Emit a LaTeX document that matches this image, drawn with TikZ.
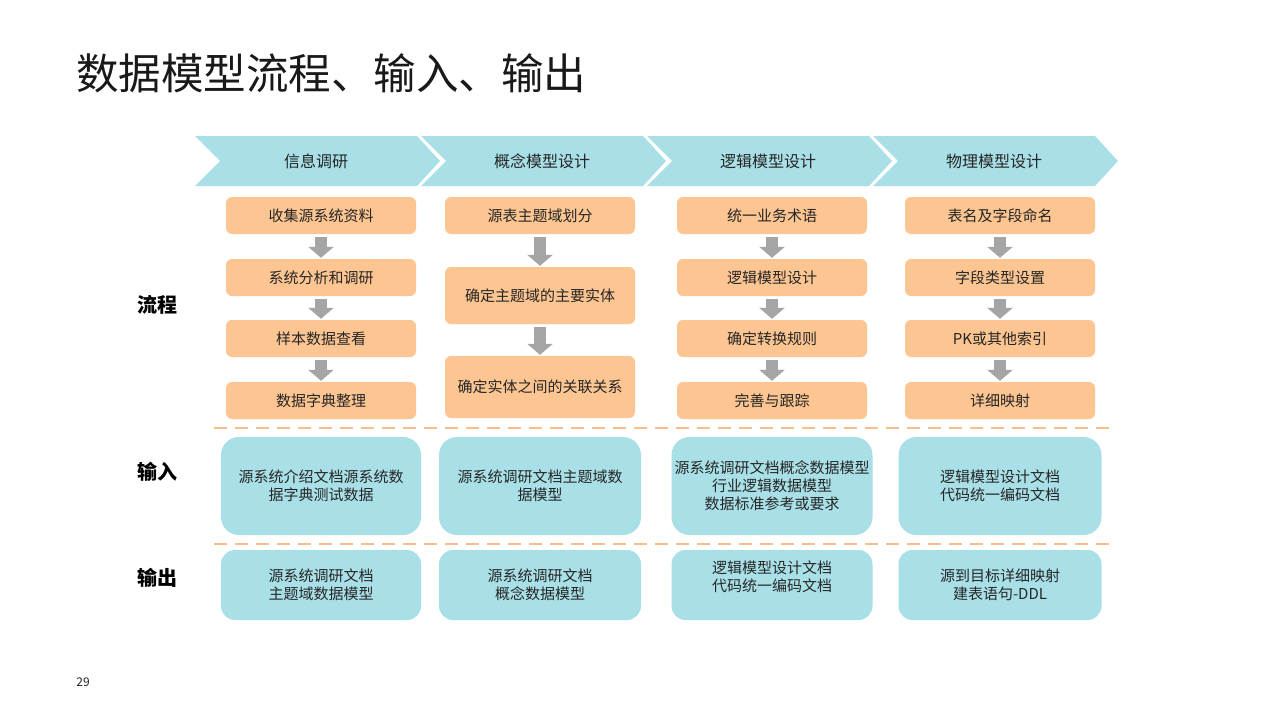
\documentclass[tikz,border=0pt]{standalone}
\usepackage{fontspec}
\setmainfont{Noto Sans CJK SC}
\usetikzlibrary{arrows.meta}
\definecolor{chev}{HTML}{A9DFE7}
\definecolor{bluebox}{HTML}{A9E0E8}
\definecolor{orangebox}{HTML}{FCC591}
\definecolor{dashc}{HTML}{F5BE8A}
\definecolor{arrowc}{HTML}{A5A5A5}
\definecolor{txt}{HTML}{262626}
\begin{document}
\begin{tikzpicture}[x=1pt,y=-1pt,
  chevtext/.style={font=\fontsize{16}{19}\selectfont, text=txt, inner sep=0},
  obox/.style={fill=orangebox, rounded corners=6pt, minimum width=190pt, text=txt,
    font=\fontsize{15}{18}\selectfont, inner sep=0, align=center},
  ibox/.style={fill=bluebox, rounded corners=18pt, text=txt,
    font=\fontsize{15}{18}\selectfont, inner sep=0, align=center, minimum height=98pt},
  outbox/.style={fill=bluebox, rounded corners=14pt, text=txt,
    font=\fontsize{15}{18}\selectfont, inner sep=0, align=center, minimum height=70pt},
  garrow/.style={draw=arrowc, line width=12pt, -{Triangle[width=25pt,length=11pt]},
    shorten <=3pt, shorten >=1pt},
  sidelabel/.style={font=\fontsize{20}{24}\selectfont\bfseries, text=black, inner sep=0},
  sep/.style={draw=dashc, line width=2.5pt, dash pattern=on 13pt off 8pt}
]
\useasboundingbox (0,0) rectangle (1280,720);
\fill[white] (0,0) rectangle (1280,720);

% title
\node[anchor=west, inner sep=0, font=\fontsize{42.5}{48}\selectfont, text=black!90] (title) at (76,73) {数据模型流程、输入、输出};

% chevrons
\foreach \x/\lab/\nm in {195/信息调研/h1, 421/概念模型设计/h2, 647/逻辑模型设计/h3, 873/物理模型设计/h4}{
  \fill[chev] (\x,136) -- (\x+222,136) -- (\x+245,161) -- (\x+222,186) -- (\x,186) -- (\x+25,161) -- cycle;
  \node[chevtext] (\nm) at (\x+121,161) {\lab};
}

% column 1
\node[obox, minimum height=37pt] (a1) at (321,215.5) {收集源系统资料};
\node[obox, minimum height=37pt] (a2) at (321,277.5) {系统分析和调研};
\node[obox, minimum height=37pt] (a3) at (321,338.5) {样本数据查看};
\node[obox, minimum height=37pt] (a4) at (321,400.5) {数据字典整理};
% column 2
\node[obox, minimum height=37pt] (b1) at (540,215.5) {源表主题域划分};
\node[obox, minimum height=57pt] (b2) at (540,295.5) {确定主题域的主要实体};
\node[obox, minimum height=62pt] (b3) at (540,387) {确定实体之间的关联关系};
% column 3
\node[obox, minimum height=37pt] (c1) at (772,215.5) {统一业务术语};
\node[obox, minimum height=37pt] (c2) at (772,277.5) {逻辑模型设计};
\node[obox, minimum height=37pt] (c3) at (772,338.5) {确定转换规则};
\node[obox, minimum height=37pt] (c4) at (772,400.5) {完善与跟踪};
% column 4
\node[obox, minimum height=37pt] (d1) at (1000,215.5) {表名及字段命名};
\node[obox, minimum height=37pt] (d2) at (1000,277.5) {字段类型设置};
\node[obox, minimum height=37pt] (d3) at (1000,338.5) {PK或其他索引};
\node[obox, minimum height=37pt] (d4) at (1000,400.5) {详细映射};

% arrows
\draw[garrow] (a1) -- (a2);
\draw[garrow] (a2) -- (a3);
\draw[garrow] (a3) -- (a4);
\draw[garrow] (b1) -- (b2);
\draw[garrow] (b2) -- (b3);
\draw[garrow] (c1) -- (c2);
\draw[garrow] (c2) -- (c3);
\draw[garrow] (c3) -- (c4);
\draw[garrow] (d1) -- (d2);
\draw[garrow] (d2) -- (d3);
\draw[garrow] (d3) -- (d4);

% separators
\coordinate (s1l) at (214,428); \coordinate (s1r) at (1112,428);
\coordinate (s2l) at (214,544); \coordinate (s2r) at (1112,544);
\draw[sep] (s1l) -- (s1r);
\draw[sep] (s2l) -- (s2r);

% input boxes
\node[ibox, minimum width=200pt] (i1) at (321,486) {源系统介绍文档源系统数\\据字典测试数据};
\node[ibox, minimum width=202pt] (i2) at (540,486) {源系统调研文档主题域数\\据模型};
\node[ibox, minimum width=201pt] (i3) at (772,486) {源系统调研文档概念数据模型\\行业逻辑数据模型\\数据标准参考或要求};
\node[ibox, minimum width=203pt] (i4) at (1000,486) {逻辑模型设计文档\\代码统一编码文档};

% output boxes
\node[outbox, minimum width=200pt] (o1) at (321,585) {源系统调研文档\\主题域数据模型};
\node[outbox, minimum width=202pt] (o2) at (540,585) {源系统调研文档\\概念数据模型};
\node[outbox, minimum width=201pt] (o3) at (772,585) {};
\node[text=txt, font=\fontsize{15}{18}\selectfont, inner sep=0, align=center] (o3t) at (772,577) {逻辑模型设计文档\\代码统一编码文档};
\node[outbox, minimum width=203pt] (o4) at (1000,585) {源到目标详细映射\\建表语句-DDL};

% side labels
\node[sidelabel] (l1) at (157,305) {流程};
\node[sidelabel] (l2) at (157,472) {输入};
\node[sidelabel] (l3) at (157,578) {输出};

% page number
\node[inner sep=0, font=\fontsize{12}{14}\selectfont, text=txt] (pg) at (83,682) {29};
\end{tikzpicture}
\end{document}
